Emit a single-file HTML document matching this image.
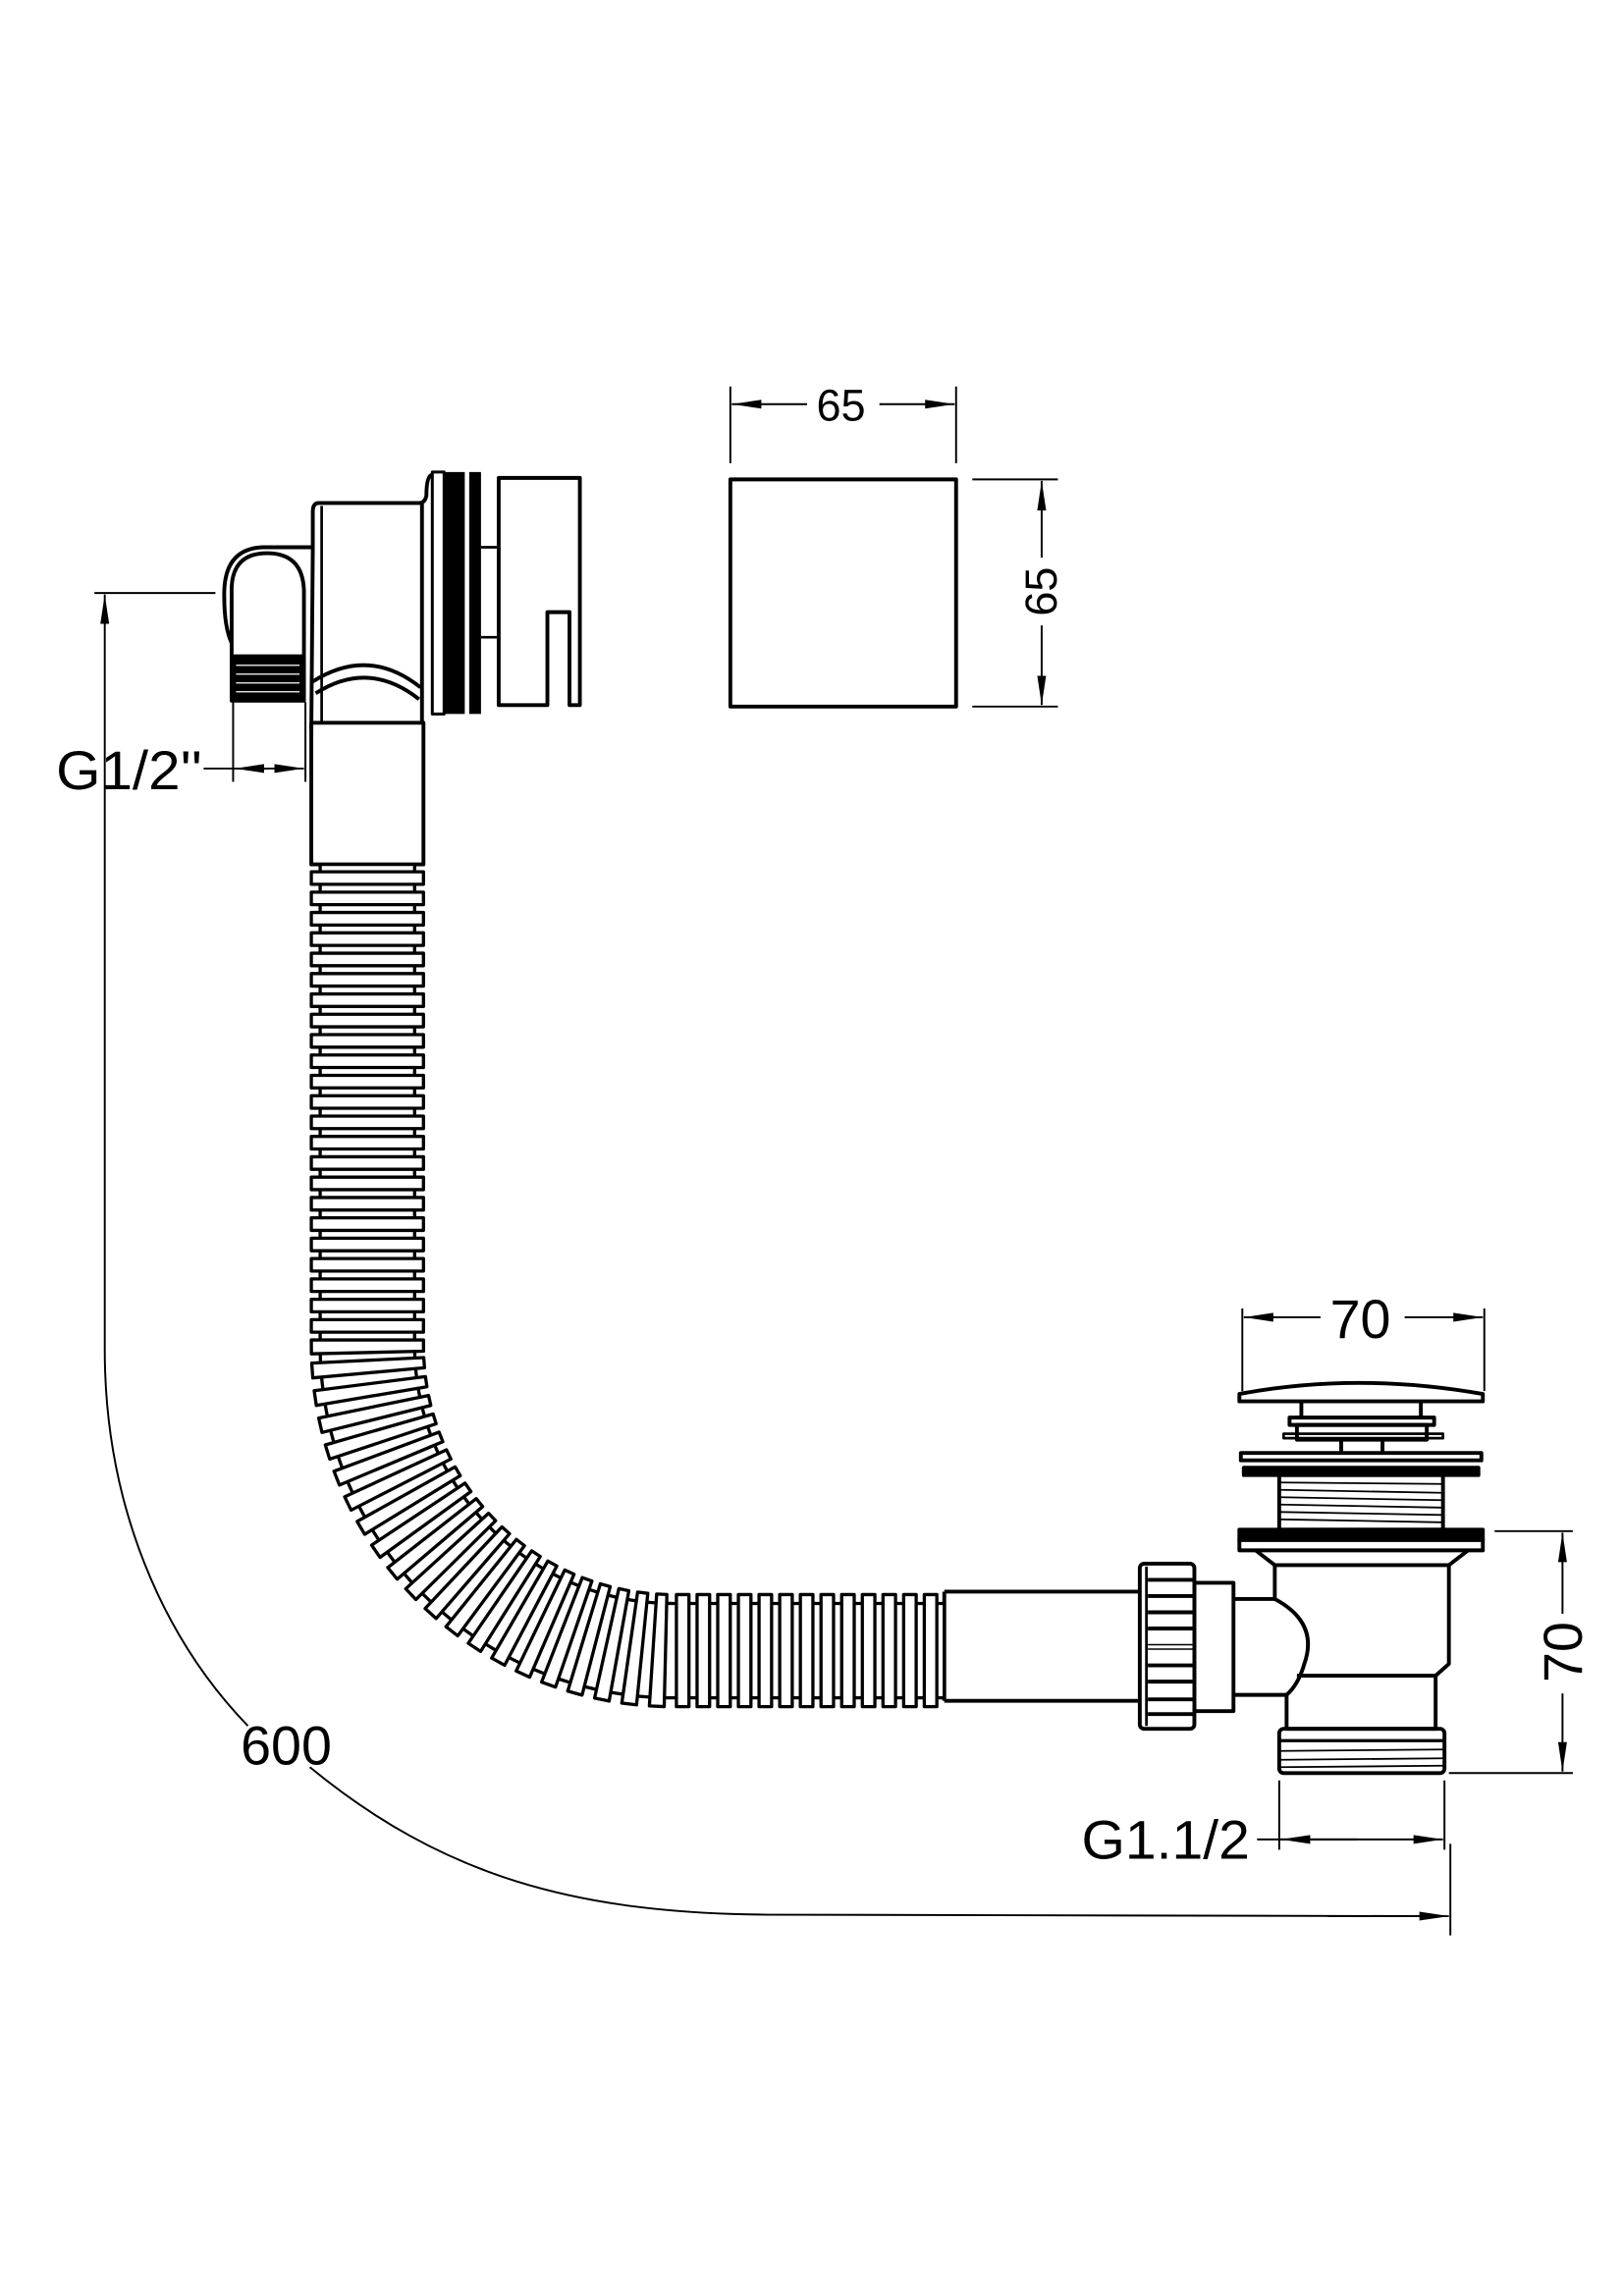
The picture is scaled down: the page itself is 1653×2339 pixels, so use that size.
<!DOCTYPE html>
<html><head><meta charset="utf-8"><style>
html,body{margin:0;padding:0;background:#fff}
svg{display:block}
text{font-family:"Liberation Sans",Arial,sans-serif;fill:#000}
</style></head><body>
<svg id="s" xmlns="http://www.w3.org/2000/svg" width="1653" height="2339" viewBox="0 0 1100 1556.5" preserveAspectRatio="none">
<defs>
<marker id="ar" viewBox="0 0 20 8" refX="20" refY="4" markerWidth="20" markerHeight="8" markerUnits="userSpaceOnUse" orient="auto-start-reverse"><path d="M0,1 L20,4 L0,7 Z" fill="#000"/></marker>
</defs>
<g fill="none" stroke="#000" stroke-width="1.3">
<line x1="495" y1="262" x2="495" y2="314"/><line x1="648" y1="262" x2="648" y2="314"/>
<line x1="547" y1="274" x2="496" y2="274" marker-end="url(#ar)"/>
<line x1="596" y1="274" x2="647" y2="274" marker-end="url(#ar)"/>
<line x1="659" y1="325" x2="717" y2="325"/><line x1="659" y1="479" x2="717" y2="479"/>
<line x1="706" y1="378" x2="706" y2="326" marker-end="url(#ar)"/>
<line x1="706" y1="424" x2="706" y2="478" marker-end="url(#ar)"/>
<line x1="64" y1="402" x2="146" y2="402"/>
<line x1="71" y1="915" x2="71" y2="403" marker-end="url(#ar)"/>
<path d="M71,915 C71,1020 110,1110 168,1170"/>
<path d="M210,1198 C300,1272 390,1297 520,1298 L970,1299"/>
<line x1="900" y1="1299" x2="982" y2="1299" marker-end="url(#ar)"/>
<line x1="983" y1="1250" x2="983" y2="1312"/>
<line x1="158" y1="476" x2="158" y2="530"/><line x1="207" y1="476" x2="207" y2="530"/>
<line x1="138" y1="521" x2="182" y2="521"/>
<line x1="182" y1="521" x2="159" y2="521" marker-end="url(#ar)"/>
<line x1="182" y1="521" x2="206" y2="521" marker-end="url(#ar)"/>
<line x1="842" y1="887" x2="842" y2="943"/><line x1="1006" y1="887" x2="1006" y2="943"/>
<line x1="895" y1="893" x2="843" y2="893" marker-end="url(#ar)"/>
<line x1="952" y1="893" x2="1005" y2="893" marker-end="url(#ar)"/>
<line x1="1013" y1="1038" x2="1066" y2="1038"/><line x1="982" y1="1202" x2="1066" y2="1202"/>
<line x1="1059" y1="1094" x2="1059" y2="1039" marker-end="url(#ar)"/>
<line x1="1059" y1="1148" x2="1059" y2="1201" marker-end="url(#ar)"/>
<line x1="867" y1="1207" x2="867" y2="1254"/><line x1="979" y1="1207" x2="979" y2="1254"/>
<line x1="852" y1="1247" x2="920" y2="1247"/>
<line x1="920" y1="1247" x2="868" y2="1247" marker-end="url(#ar)"/>
<line x1="920" y1="1247" x2="978" y2="1247" marker-end="url(#ar)"/>
</g>
<g fill="none" stroke="#000" stroke-width="2.6" stroke-linejoin="round">
<rect x="495" y="325" width="153" height="154"/>
<path d="M338,324 L393,324 L393,478 L386,478 L386,415 L371,415 L371,478 L338,478 Z"/>
<line x1="326" y1="371" x2="338" y2="371" stroke-width="1.8"/><line x1="326" y1="432" x2="338" y2="432" stroke-width="1.8"/>
<path d="M293,320 L301,320 L301,484 L293,484 Z" stroke-width="2"/>
<rect x="301" y="320" width="14" height="164" fill="#000" stroke="none"/>
<rect x="318" y="320" width="8" height="164" fill="#000" stroke="none"/>
<path d="M293,322 Q289,322 289,336 Q288,341 284,341 L216,341 Q212,341 212,347 L212,372 L211,495"/>
<line x1="218" y1="343" x2="218" y2="490" stroke-width="1.8"/>
<path d="M286,341 L286,490"/>
<path d="M212,462 Q250,438 285,466"/>
<path d="M214,470 Q250,447 284,474"/>
<path d="M211,371 L178,371 Q151,372 152,405 Q152,425 157,436"/>
<path d="M157,445 L157,398 Q158,375 181,375 Q205,375 206,400 L206,445 Z"/>
<rect x="157" y="445" width="49" height="30" fill="#000"/>
<path d="M211,490 L287,490 L287,586 L211,586 Z"/>
<path d="M840,945 Q920,930 1005,945 L1005,950 L840,950 Z"/>
<path d="M882,950 L882,961 M963,950 L963,961"/>
<rect x="874" y="961" width="98" height="5"/>
<rect x="879" y="966" width="88" height="10"/>
<rect x="870" y="972" width="108" height="3" stroke-width="1.8"/>
<path d="M909,977 L909,985 M937,977 L937,985"/>
<rect x="841" y="985" width="163" height="5"/>
<rect x="843" y="995" width="159" height="5" fill="#000"/>
<rect x="867" y="1000" width="111" height="37"/>
<rect x="840" y="1037" width="165" height="7" fill="#000"/>
<rect x="840" y="1044" width="165" height="7"/>
<path d="M851,1051 L864,1061 L982,1061 L995,1051"/>
<path d="M864,1061 L864,1084 Q894,1100 884,1128 Q880,1142 872,1149 L872,1172"/>
<path d="M982,1061 L982,1128 L973,1136 L973,1172 L872,1172"/>
<line x1="879" y1="1136" x2="973" y2="1136"/>
<rect x="867" y="1172" width="112" height="30" rx="3"/>
<path d="M836,1084 L864,1084 M836,1149 L872,1149"/>
<rect x="809.5" y="1073" width="26.5" height="87"/>
<rect x="772.5" y="1060" width="37" height="112" rx="3"/>
<line x1="777" y1="1062" x2="777" y2="1170" stroke-width="1.8"/>
<path d="M640,1079 L772,1079 M640,1153 L772,1153 M640,1079 L640,1153"/>
</g>
<g stroke="#fff" stroke-width="0.8">
<line x1="160" y1="451" x2="203" y2="451"/><line x1="160" y1="457" x2="203" y2="457"/><line x1="160" y1="463" x2="203" y2="463"/><line x1="160" y1="469" x2="203" y2="469"/>
</g>
<g stroke="#000" stroke-width="1.2">
<line x1="868" y1="1005" x2="977" y2="1006"/><line x1="868" y1="1010" x2="977" y2="1012"/><line x1="868" y1="1015" x2="977" y2="1017"/><line x1="868" y1="1020" x2="977" y2="1022"/><line x1="868" y1="1025" x2="977" y2="1027"/><line x1="868" y1="1030" x2="977" y2="1032"/>
<line x1="868" y1="1180" x2="978" y2="1180" stroke-width="2.2"/><line x1="868" y1="1187" x2="978" y2="1186"/><line x1="868" y1="1193" x2="978" y2="1192"/><line x1="868" y1="1198" x2="978" y2="1197"/>
</g>
<g stroke="#000" stroke-width="2.6">
<line x1="778" y1="1071" x2="809" y2="1071"/><line x1="778" y1="1082" x2="809" y2="1082"/><line x1="778" y1="1093" x2="809" y2="1093"/><line x1="778" y1="1104" x2="809" y2="1104"/><line x1="778" y1="1129" x2="809" y2="1129"/><line x1="778" y1="1140" x2="809" y2="1140"/><line x1="778" y1="1152" x2="809" y2="1152"/><line x1="778" y1="1162" x2="809" y2="1162"/>
<line x1="778" y1="1115" x2="809" y2="1115" stroke-width="1"/><line x1="778" y1="1118" x2="809" y2="1118" stroke-width="1"/>
</g>
<g id="hose" fill="#fff" stroke="#000" stroke-width="2.2" stroke-linejoin="round"></g>
<text x="570" y="285" font-size="30" text-anchor="middle">65</text>
<text x="0" y="0" font-size="30" text-anchor="middle" transform="translate(716,401) rotate(-90)">65</text>
<text x="38" y="535" font-size="37" textLength="99" lengthAdjust="spacingAndGlyphs">G1/2''</text>
<text x="194" y="1196" font-size="37" text-anchor="middle">600</text>
<text x="922" y="907" font-size="37" text-anchor="middle">70</text>
<text x="0" y="0" font-size="37" text-anchor="middle" transform="translate(1072,1120) rotate(-90)">70</text>
<text x="733" y="1260" font-size="37" textLength="114" lengthAdjust="spacingAndGlyphs">G1.1/2</text>
</svg>
<script>
(function(){
var g=document.getElementById('hose'),NS='http://www.w3.org/2000/svg';
function fmt(pts){return pts.map(function(a){return a[0].toFixed(2)+','+a[1].toFixed(2)}).join(' ');}
function poly(pts){var p=document.createElementNS(NS,'polygon');p.setAttribute('points',fmt(pts));g.appendChild(p);}
var cx=456,cy=912,R=207,hw=38,core=32,y0=586,yb=912,xe=640;
var L1=yb-y0,L2=Math.PI/2*R,L3=xe-cx,T=L1+L2+L3;
function at(s){
 if(s<=L1) return {p:[249,y0+s],t:[0,1]};
 if(s<=L1+L2){var a=(s-L1)/R;
  return {p:[cx-R*Math.cos(a),cy+R*Math.sin(a)],t:[Math.sin(a),Math.cos(a)]};}
 return {p:[cx+(s-L1-L2),cy+R],t:[1,0]};
}
var N=300,left=[],right=[];
for(var i=0;i<=N;i++){var q=at(T*i/N),n=[-q.t[1],q.t[0]];left.push([q.p[0]+n[0]*core,q.p[1]+n[1]*core]);right.push([q.p[0]-n[0]*core,q.p[1]-n[1]*core]);}
var pl=document.createElementNS(NS,'polygon');pl.setAttribute('points',fmt(left.concat(right.reverse())));g.appendChild(pl);
var pitch=13.8,th=8.5,s=5;
function nrm(q){return [-q.t[1],q.t[0]];}
while(s+th<=T-2){
 var q1=at(s),q2=at(s+th);
 var n1=nrm(q1),n2=nrm(q2);
 poly([[q1.p[0]+n1[0]*hw,q1.p[1]+n1[1]*hw],[q2.p[0]+n2[0]*hw,q2.p[1]+n2[1]*hw],[q2.p[0]-n2[0]*hw,q2.p[1]-n2[1]*hw],[q1.p[0]-n1[0]*hw,q1.p[1]-n1[1]*hw]]);
 var sp=pitch; if(s>L1&&s<L1+L2) sp=pitch*1.15; if(s>=L1+L2) sp=14;
 s+=sp;
}
})();
</script>
</body></html>
